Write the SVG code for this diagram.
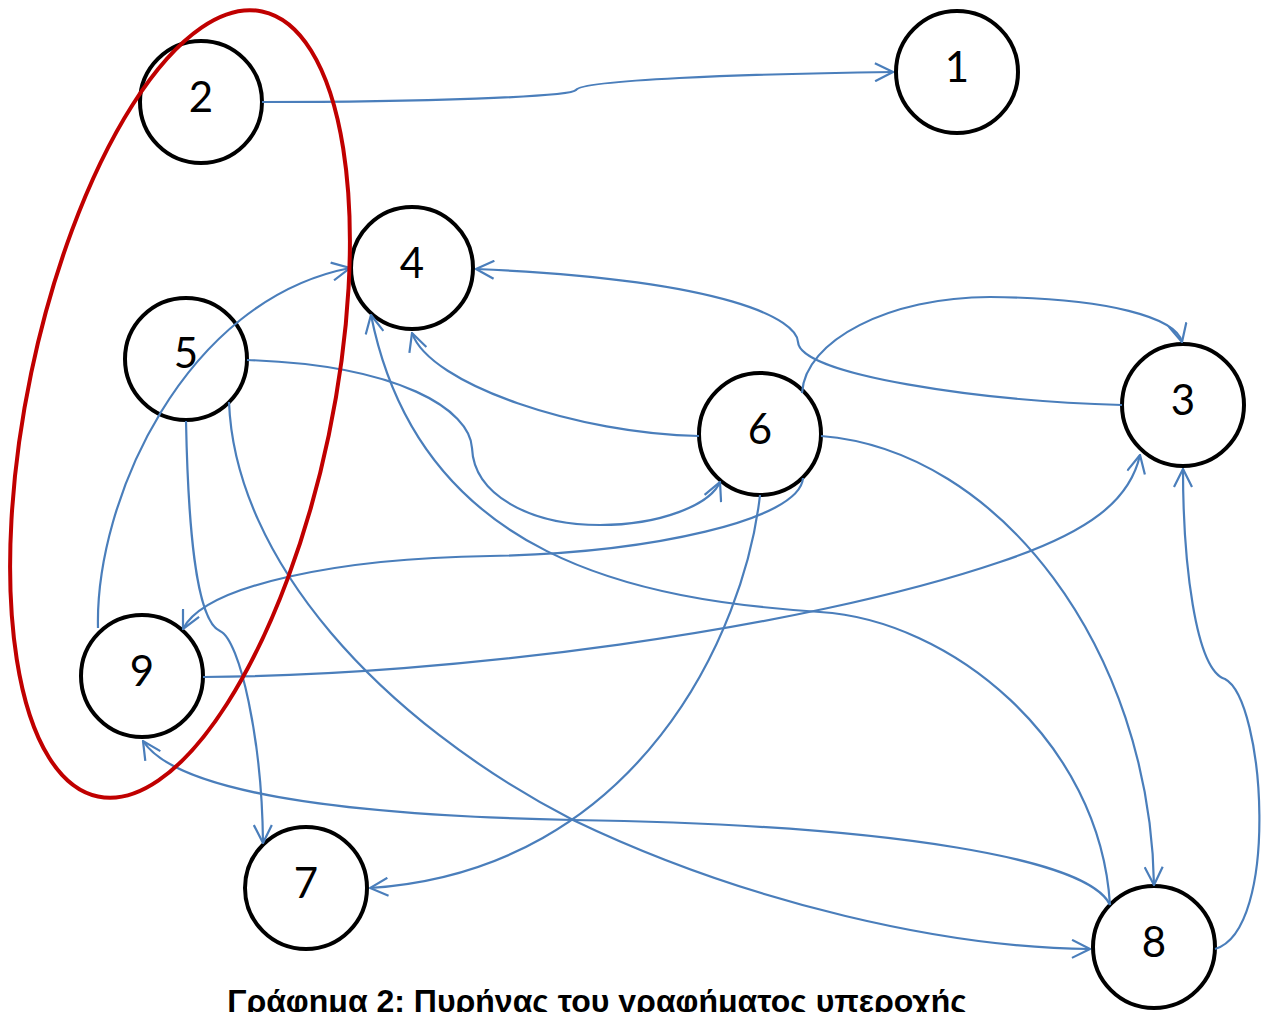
<svg xmlns="http://www.w3.org/2000/svg" width="1269" height="1012" viewBox="0 0 1269 1012">
  <defs>
    <style>
      .node circle { fill: none; stroke: #000; stroke-width: 4; }
      .node text { font-family: Lato, "Noto Sans", sans-serif; font-size: 42px; fill: #000; text-anchor: middle; }
      .edge { fill: none; stroke: #4A7EBB; stroke-width: 2.2; marker-end: url(#arrow); }
      .caption { font-family: "Liberation Sans", Arial, sans-serif; font-weight: bold; font-size: 32px; fill: #000; text-anchor: middle; }
    </style>
    <marker id="arrow" viewBox="0 0 20 20" refX="19" refY="10" markerWidth="20" markerHeight="20" markerUnits="userSpaceOnUse" orient="auto">
      <path d="M1,1 L19,10 L1,19" fill="none" stroke="#4A7EBB" stroke-width="2.2"/>
    </marker>
  </defs>
  <rect width="1269" height="1012" fill="#fff"/>

  <!-- vertices -->
  <g id="node-1" class="node"><circle cx="957" cy="72" r="61"/><text x="957" y="82">1</text></g>
  <g id="node-2" class="node"><circle cx="201" cy="102" r="61"/><text x="201" y="112">2</text></g>
  <g id="node-3" class="node"><circle cx="1183" cy="405" r="61"/><text x="1183" y="415">3</text></g>
  <g id="node-4" class="node"><circle cx="412" cy="268" r="61"/><text x="412" y="278">4</text></g>
  <g id="node-5" class="node"><circle cx="186" cy="359" r="61"/><text x="186" y="368">5</text></g>
  <g id="node-6" class="node"><circle cx="760" cy="434" r="61"/><text x="760" y="444">6</text></g>
  <g id="node-7" class="node"><circle cx="306" cy="888" r="61"/><text x="306" y="898">7</text></g>
  <g id="node-8" class="node"><circle cx="1154" cy="947" r="61"/><text x="1154" y="957">8</text></g>
  <g id="node-9" class="node"><circle cx="142" cy="676" r="61"/><text x="142" y="686">9</text></g>

  <!-- directed edges -->
  <g id="edges">
    <path id="e2-1" class="edge" d="M262,102 C420,102 570,97 576,90 C582,80 740,74 893,72"/>
    <path id="e9-4" class="edge" d="M98,628 C95,500 185,300 350,268"/>
    <path id="e3-4" class="edge" d="M1122,405 C980,401 800,375 798,342 C797,320 730,280 476,269"/>
    <path id="e6-4" class="edge" d="M699,436 C580,434 430,385 412,333"/>
    <path id="e8-4" class="edge" d="M1110,905 C1100,740 950,620 820,612 C640,600 420,560 371,315"/>
    <path id="e5-6" class="edge" d="M247,360 C400,365 470,410 472,448 C474,495 530,525 600,525 C660,525 710,505 720,482"/>
    <path id="e6-9" class="edge" d="M803,478 C800,520 650,553 490,556 C340,558 205,585 183,629"/>
    <path id="e6-3" class="edge" d="M802,393 C805,340 890,297 990,297 C1110,298 1176,318 1182,342"/>
    <path id="e9-3" class="edge" d="M203,677 C450,676 800,630 1000,562 C1090,532 1130,500 1140,455"/>
    <path id="e5-7" class="edge" d="M186,421 C188,520 195,620 220,631 C240,640 262,740 263,843"/>
    <path id="e5-8" class="edge" d="M229,402 C235,560 380,720 573,820 C750,905 950,948 1090,949"/>
    <path id="e6-7" class="edge" d="M760,495 C745,630 640,870 370,888"/>
    <path id="e6-8" class="edge" d="M821,436 C1000,450 1150,650 1154,885"/>
    <path id="e8-3" class="edge" d="M1215,949 C1280,930 1265,700 1225,679 C1195,670 1183,560 1183,469"/>
    <path id="e8-9" class="edge" d="M1110,905 C1090,860 900,825 573,820 C330,815 175,790 143,741"/>
  </g>

  <!-- kernel highlight -->
  <g id="kernel">
    <ellipse cx="180" cy="404" rx="152" ry="401" transform="rotate(11.8 180 404)" fill="none" stroke="#C00000" stroke-width="4"/>
  </g>

  <text class="caption" x="597" y="1012">Γράφημα 2: Πυρήνας του γραφήματος υπεροχής</text>
</svg>
